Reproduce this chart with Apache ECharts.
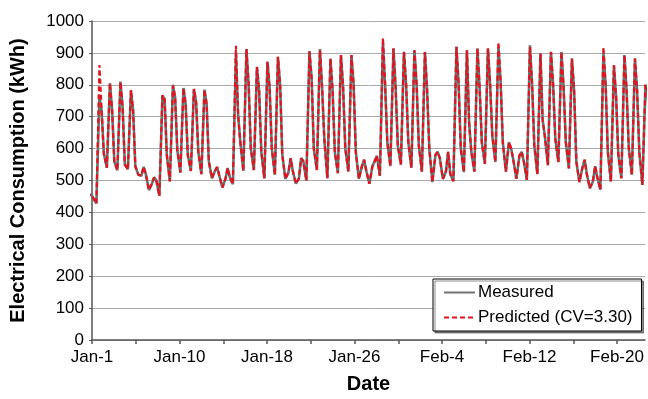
<!DOCTYPE html>
<html>
<head>
<meta charset="utf-8">
<script src="https://cdn.jsdelivr.net/npm/echarts@6/dist/echarts.min.js"></script>
<style>
  html, body { margin: 0; padding: 0; background: #fff; }
  #chart { width: 648px; height: 399px; }
</style>
</head>
<body>
<div id="chart"></div>
<script>
// data begins Jan-1 16:00, x axis is hours from that point
const startHour = 16;
// hour of the day each daily reading belongs to
const dayHours = [2, 9, 14, 19];

// one entry per day, Jan-1 .. Feb-23
const night = [450, 428, 540, 532, 535, 518, 470, 452, 497, 525, 530, 520, 507, 478, 488, 530, 533, 507,
  518, 505, 490, 500, 533, 507, 523, 528, 505, 490, 515, 545, 550, 540, 528, 495, 505, 498, 526, 528,
  552, 558, 528, 505, 502, 520, 548, 558, 538, 495, 476, 471, 497, 507, 518, 486];
const peak = [455, 762, 805, 810, 783, 515, 490, 767, 800, 790, 787, 785, 530, 505, 895, 912, 856, 872,
  888, 525, 507, 905, 912, 882, 893, 893, 545, 545, 930, 914, 903, 908, 903, 580, 528, 919, 908, 914,
  914, 920, 620, 578, 924, 898, 903, 903, 882, 540, 497, 900, 861, 893, 882, 800];
const predPeak = [455, 862, 805, 808, 783, 515, 490, 767, 797, 790, 787, 785, 530, 505, 922, 912, 856, 872,
  888, 525, 507, 905, 908, 882, 893, 893, 545, 545, 947, 914, 903, 908, 903, 580, 528, 919, 908, 914,
  914, 934, 620, 578, 918, 898, 903, 903, 882, 540, 497, 919, 861, 893, 882, 800];
const afternoon = [455, 720, 720, 730, 720, 543, 510, 755, 760, 740, 745, 740, 542, 539, 705, 800, 780, 790,
  800, 570, 570, 820, 790, 780, 790, 800, 565, 560, 800, 790, 800, 800, 780, 590, 590, 800, 680, 790,
  800, 810, 600, 590, 800, 690, 800, 790, 780, 565, 545, 800, 760, 780, 780, 780];
const evening = [445, 585, 560, 550, 545, 520, 500, 580, 595, 580, 590, 560, 515, 510, 620, 600, 590, 600,
  580, 530, 560, 600, 630, 590, 600, 590, 530, 578, 620, 610, 620, 610, 600, 570, 520, 600, 590, 620,
  640, 620, 565, 560, 610, 640, 630, 620, 560, 520, 510, 590, 580, 600, 590, 600];

const tickHours = [0, 100, 200, 300, 400, 500, 600, 700, 800, 900, 1000, 1100, 1200];
const labelHours = [0, 200, 400, 600, 800, 1000, 1200];
const dateLabels = ['Jan-1', 'Jan-10', 'Jan-18', 'Jan-26', 'Feb-4', 'Feb-12', 'Feb-20'];

function buildSeries(peakValues) {
  const pts = [];
  for (let k = 0; k < night.length; k++) {
    const vals = [night[k], peakValues[k], afternoon[k], evening[k]];
    dayHours.forEach((h, i) => {
      pts.push([k * 24 + h - startHour, vals[i]]);
    });
  }
  return pts;
}

const font = "'Liberation Sans', Arial, sans-serif";
const chart = echarts.init(document.getElementById('chart'));

chart.setOption({
  animation: false,
  grid: { left: 91, right: 3, top: 21, bottom: 58 },
  legend: {
    orient: 'vertical',
    left: 433,
    top: 279,
    padding: [5, 9, 5, 10],
    itemGap: 8,
    itemWidth: 31,
    itemHeight: 14,
    backgroundColor: '#fff',
    borderColor: '#000',
    borderWidth: 1,
    shadowColor: 'rgba(0,0,0,0.45)',
    shadowOffsetX: 2,
    shadowOffsetY: 2,
    itemStyle: { opacity: 0 },
    textStyle: { fontFamily: font, fontSize: 17, color: '#000', padding: [0, 0, 0, -2] },
    data: ['Measured', 'Predicted (CV=3.30)'],
  },
  xAxis: {
    type: 'value',
    min: 0,
    max: 1264,
    name: 'Date',
    nameLocation: 'middle',
    nameGap: 34,
    nameTextStyle: { fontFamily: font, fontSize: 20, fontWeight: 'bold', color: '#000' },
    axisLine: { lineStyle: { color: '#555', width: 1.5 } },
    axisTick: { show: true, length: 4, customValues: tickHours, lineStyle: { color: '#555', width: 1.5 } },
    axisLabel: {
      customValues: labelHours,
      margin: 9,
      fontFamily: font,
      fontSize: 17,
      color: '#000',
      formatter: (v) => dateLabels[labelHours.indexOf(v)] || '',
    },
    splitLine: { show: false },
  },
  yAxis: {
    type: 'value',
    min: 0,
    max: 1000,
    interval: 100,
    name: 'Electrical Consumption (kWh)',
    nameLocation: 'middle',
    nameGap: 64,
    nameTextStyle: { fontFamily: font, fontSize: 20, fontWeight: 'bold', color: '#000' },
    axisLine: { show: true, lineStyle: { color: '#555', width: 1.5 } },
    axisTick: { show: true, length: 3, lineStyle: { color: '#555' } },
    axisLabel: { margin: 8, fontFamily: font, fontSize: 17, color: '#000', formatter: (v) => String(v) },
    splitLine: { lineStyle: { color: '#aaa', width: 1 } },
  },
  series: [
    {
      name: 'Measured',
      type: 'line',
      symbol: 'none',
      data: buildSeries(peak),
      lineStyle: { color: '#707070', width: 2.6 },
      itemStyle: { color: '#707070' },
    },
    {
      name: 'Predicted (CV=3.30)',
      type: 'line',
      symbol: 'none',
      data: buildSeries(predPeak),
      lineStyle: { color: '#e0141e', width: 2.2, type: [5, 3] },
      itemStyle: { color: '#e0141e' },
    },
  ],
});
</script>
</body>
</html>
